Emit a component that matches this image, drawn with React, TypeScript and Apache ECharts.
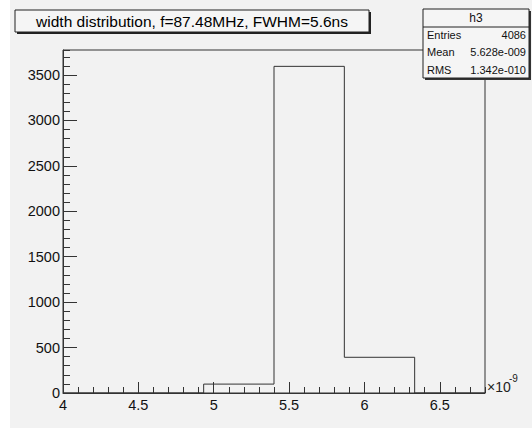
import React, { useEffect, useRef } from "react";
import * as echarts from "echarts";

// Histogram data (x in units of 1e-9 s)
const binEdges = [4, 4.4667, 4.9333, 5.4, 5.8667, 6.3333, 6.8];
const binCounts = [0, 0, 98, 3595, 393, 0];
const titleText = "width distribution, f=87.48MHz, FWHM=5.6ns";
const statsName = "h3";
const statsLabels = ["Entries", "Mean", "RMS"];
const statsValues = ["4086", "5.628e-009", "1.342e-010"];
const xMin = 4;
const xMax = 6.8;
const yMax = 3775;

const FONT = '"Liberation Sans", Arial, Helvetica, sans-serif';

export default function App() {
  const ref = useRef<HTMLDivElement>(null);
  useEffect(() => {
    if (!ref.current) return;
    const chart = echarts.init(ref.current, null, { renderer: "svg" });
    const stepData = binEdges.map((e, i) => [
      e,
      i < binCounts.length ? binCounts[i] : 0,
    ]);
    const lineCol = "#333";
    const statsRowY = [35, 52, 70];
    const plain = (v: number) => String(v);
    const option: any = {
      animation: false,
      backgroundColor: "#f2f2f2",
      grid: {
        left: 63,
        right: 47,
        top: 50,
        bottom: 39,
        show: true,
        borderColor: lineCol,
        borderWidth: 1,
        backgroundColor: "transparent",
      },
      xAxis: [
        {
          type: "value",
          min: xMin,
          max: xMax,
          interval: 0.5,
          position: "bottom",
          axisLine: { show: true, lineStyle: { color: lineCol, width: 1 } },
          axisTick: { show: true, inside: true, length: 11, lineStyle: { color: lineCol } },
          axisLabel: {
            show: true,
            showMaxLabel: false,
            margin: 4,
            fontSize: 14.5,
            fontFamily: FONT,
            color: "#111",
            formatter: plain,
          },
          splitLine: { show: false },
        },
        {
          type: "value",
          min: xMin,
          max: xMax,
          interval: 0.1,
          position: "bottom",
          axisLine: { show: false },
          axisTick: { show: true, inside: true, length: 6, lineStyle: { color: lineCol } },
          axisLabel: { show: false },
          splitLine: { show: false },
        },
      ],
      yAxis: [
        {
          type: "value",
          min: 0,
          max: yMax,
          interval: 500,
          position: "left",
          axisLine: { show: true, lineStyle: { color: lineCol, width: 1 } },
          axisTick: { show: true, inside: true, length: 14, lineStyle: { color: lineCol } },
          axisLabel: {
            show: true,
            showMaxLabel: false,
            margin: 3,
            fontSize: 14.5,
            fontFamily: FONT,
            color: "#111",
            formatter: plain,
          },
          splitLine: { show: false },
        },
        {
          type: "value",
          min: 0,
          max: yMax,
          interval: 100,
          position: "left",
          axisLine: { show: false },
          axisTick: { show: true, inside: true, length: 7, lineStyle: { color: lineCol } },
          axisLabel: { show: false },
          splitLine: { show: false },
        },
      ],
      series: [
        {
          type: "line",
          xAxisIndex: 0,
          yAxisIndex: 0,
          data: stepData,
          step: "end",
          symbol: "none",
          lineStyle: { color: lineCol, width: 1 },
          z: 3,
        },
      ],
      graphic: [
        // white margins of the picture
        { type: "rect", z: 50, shape: { x: 0, y: 0, width: 10, height: 432 }, style: { fill: "#fff" } },
        { type: "rect", z: 50, shape: { x: 0, y: 428, width: 532, height: 4 }, style: { fill: "#fff" } },
        // title box
        { type: "rect", z: 60, shape: { x: 17, y: 12, width: 354, height: 22 }, style: { fill: "#222" } },
        {
          type: "rect",
          z: 61,
          shape: { x: 15, y: 10, width: 354, height: 22 },
          style: { fill: "#f5f5f5", stroke: "#222", lineWidth: 1 },
        },
        {
          type: "text",
          z: 62,
          x: 192,
          y: 21,
          style: {
            text: titleText,
            fontSize: 15.5,
            fontFamily: FONT,
            fill: "#000",
            align: "center",
            verticalAlign: "middle",
          },
        },
        // stats box
        { type: "rect", z: 60, shape: { x: 425, y: 11, width: 106, height: 69 }, style: { fill: "#333" } },
        {
          type: "rect",
          z: 61,
          shape: { x: 423, y: 9, width: 106, height: 69 },
          style: { fill: "#f5f5f5", stroke: "#222", lineWidth: 1 },
        },
        {
          type: "line",
          z: 62,
          shape: { x1: 423, y1: 27, x2: 529, y2: 27 },
          style: { stroke: "#222", lineWidth: 1 },
        },
        {
          type: "text",
          z: 62,
          x: 476,
          y: 18,
          style: {
            text: statsName,
            fontSize: 12,
            fontFamily: FONT,
            fill: "#111",
            align: "center",
            verticalAlign: "middle",
          },
        },
        ...statsLabels.map((lab, i) => ({
          type: "text",
          z: 62,
          x: 427,
          y: statsRowY[i],
          style: {
            text: lab,
            fontSize: 11,
            fontFamily: FONT,
            fill: "#111",
            align: "left",
            verticalAlign: "middle",
          },
        })),
        ...statsValues.map((val, i) => ({
          type: "text",
          z: 62,
          x: 526,
          y: statsRowY[i],
          style: {
            text: val,
            fontSize: 11,
            fontFamily: FONT,
            fill: "#111",
            align: "right",
            verticalAlign: "middle",
          },
        })),
        // exponent label
        {
          type: "text",
          z: 62,
          x: 487,
          y: 387,
          style: {
            text: "×10",
            fontSize: 14,
            fontFamily: FONT,
            fill: "#222",
            align: "left",
            verticalAlign: "middle",
          },
        },
        {
          type: "text",
          z: 62,
          x: 509,
          y: 378,
          style: {
            text: "-9",
            fontSize: 10,
            fontFamily: FONT,
            fill: "#222",
            align: "left",
            verticalAlign: "middle",
          },
        },
      ],
    };
    chart.setOption(option);
    return () => chart.dispose();
  }, []);
  return (
    <div
      ref={ref}
      style={{ position: "absolute", left: 0, top: 0, width: 532, height: 432 }}
    />
  );
}
